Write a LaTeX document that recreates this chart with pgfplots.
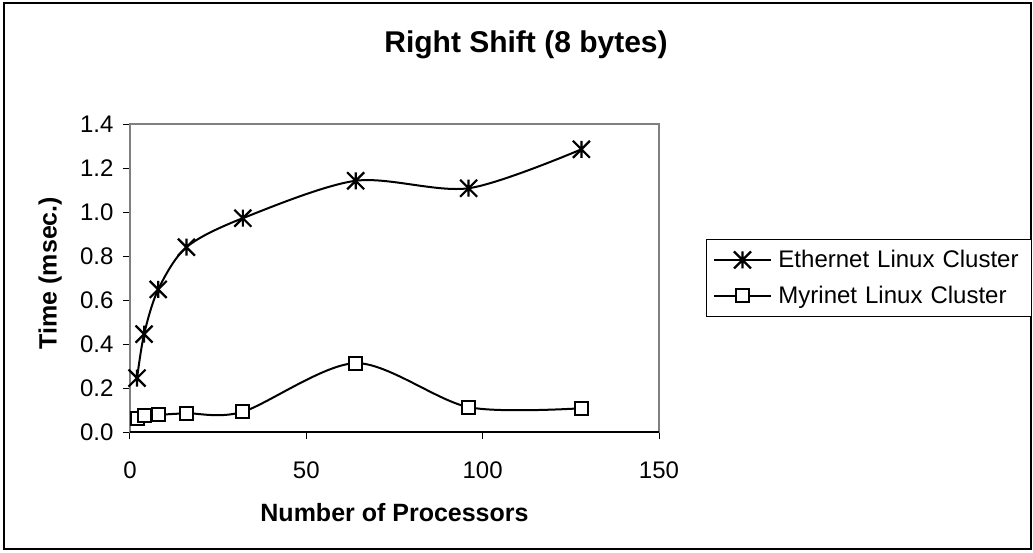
\documentclass[border=0pt]{standalone}
\usepackage{pgfplots}
\pgfplotsset{compat=1.18}
\usepackage{fontspec}
\setmainfont{Liberation Sans}

% six-armed star: vertical bar plus a diagonal cross
\pgfdeclareplotmark{xstar}{%
  \pgfpathmoveto{\pgfqpoint{0pt}{\pgfplotmarksize}}%
  \pgfpathlineto{\pgfqpoint{0pt}{-\pgfplotmarksize}}%
  \pgfpathmoveto{\pgfqpoint{-\pgfplotmarksize}{\pgfplotmarksize}}%
  \pgfpathlineto{\pgfqpoint{\pgfplotmarksize}{-\pgfplotmarksize}}%
  \pgfpathmoveto{\pgfqpoint{-\pgfplotmarksize}{-\pgfplotmarksize}}%
  \pgfpathlineto{\pgfqpoint{\pgfplotmarksize}{\pgfplotmarksize}}%
  \pgfusepathqstroke}

\begin{document}
\begin{tikzpicture}[x=1pt,y=1pt]
\path[use as bounding box] (0,0) rectangle (1033,-552);
\draw[line width=1.2pt] (4,-3) rectangle (1031,-549);
\node[font=\bfseries\fontsize{30}{34}\selectfont] at (526,-45) {Right Shift (8 bytes)};
\begin{axis}[
  at={(130pt,-432pt)}, anchor=south west,
  scale only axis, width=529pt, height=308pt,
  xmin=0, xmax=150, ymin=0, ymax=1.4,
  xtick={0,50,100,150},
  ytick={0,0.2,0.4,0.6,0.8,1.0,1.2,1.4},
  yticklabel style={/pgf/number format/fixed, /pgf/number format/fixed zerofill,
    /pgf/number format/precision=1, xshift=-6pt},
  /pgf/number format/assume math mode=true,
  xtick pos=left, ytick pos=left,
  tick align=outside, major tick length=7pt,
  tick style={black, line width=1pt},
  axis line style={gray, line width=1.2pt},
  ticklabel style={font=\fontsize{24}{28}\selectfont},
  xticklabel style={yshift=-19pt},
  xlabel={\bfseries Number of Processors},
  ylabel={\bfseries Time (msec.)},
  label style={font=\bfseries\fontsize{25}{29}\selectfont},
  xlabel style={at={(axis description cs:0.5,-0.26)}, anchor=center},
  ylabel style={at={(axis description cs:-0.151,0.516)}, anchor=center},
  legend style={at={(rel axis cs:1.0888,0.6266)}, anchor=north west,
    draw=black, line width=1pt, font=\fontsize{24}{28}\selectfont,
    inner xsep=7pt, inner ysep=9pt, row sep=13pt, column sep=5pt,
    text width=244pt},
  legend cell align=left,
  legend image code/.code={%
    \draw[mark repeat=2, mark phase=2, #1] plot coordinates {(0pt,0pt) (28pt,0pt) (56pt,0pt)};},
  every axis plot/.append style={line width=2pt, black, smooth, tension=0.5},
]
\addplot[mark=xstar, mark size=8.5pt, mark options={line width=2.2pt}] coordinates {
  (2,0.245) (4,0.445) (8,0.648) (16,0.840) (32,0.972) (64,1.142) (96,1.108) (128,1.285)};
\addlegendentry{Ethernet Linux Cluster}
\addplot[mark=square*, mark size=6.5pt, mark options={fill=white, line width=2pt}] coordinates {
  (2,0.062) (4,0.075) (8,0.078) (16,0.085) (32,0.092) (64,0.313) (96,0.113) (128,0.108)};
\addlegendentry{Myrinet Linux Cluster}
\draw[black, line width=1.2pt] (rel axis cs:0,0) -- (rel axis cs:1,0);
\end{axis}
\end{tikzpicture}
\end{document}
